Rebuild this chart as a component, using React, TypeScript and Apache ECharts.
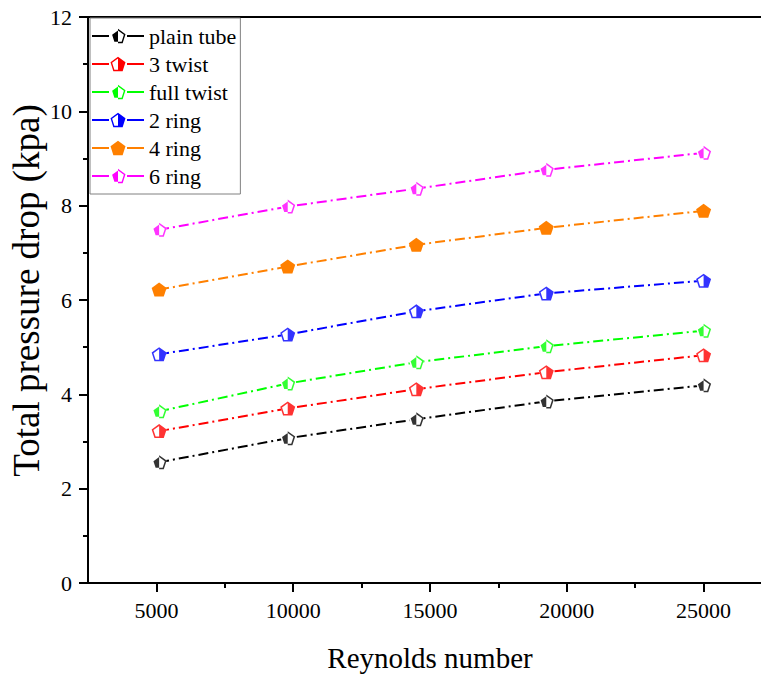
import React, { useEffect, useRef } from "react";
import * as echarts from "echarts";

// ---- data ----
const reynolds = [5100, 9800, 14500, 19250, 25000];
const xMajorTicks = [5000, 10000, 15000, 20000, 25000];
const xMinorTicks = [7500, 12500, 17500, 22500];
const seriesNames = ["plain tube", "3 twist", "full twist", "2 ring", "4 ring", "6 ring"];
const plainTube = [2.56, 3.07, 3.47, 3.85, 4.19];
const twist3 = [3.22, 3.7, 4.11, 4.47, 4.83];
const fullTwist = [3.64, 4.23, 4.68, 5.02, 5.35];
const ring2 = [4.85, 5.27, 5.76, 6.14, 6.41];
const ring4 = [6.22, 6.71, 7.17, 7.53, 7.89];
const ring6 = [7.49, 7.98, 8.36, 8.76, 9.12];
const seriesValues = [plainTube, twist3, fullTwist, ring2, ring4, ring6];
const seriesColors = ["#000000", "#ff0000", "#00ff00", "#0000ff", "#ff8000", "#ff00ff"];
const fillSides = ["left", "right", "left", "right", "full", "left"];

const FONT = "Liberation Serif";

// ---- pentagon symbol helpers ----
type P = [number, number];
function pent(cx: number, cy: number, R: number): P[] {
  return [-90, -18, 54, 126, 198].map((a) => {
    const r = (a * Math.PI) / 180;
    return [cx + R * Math.cos(r), cy + R * Math.sin(r)] as P;
  });
}
function poly(pts: P[]): string {
  return (
    pts.map((p, i) => (i === 0 ? "M" : "L") + p[0].toFixed(2) + " " + p[1].toFixed(2)).join(" ") + " Z "
  );
}
function half(cx: number, cy: number, R: number, side: string): string {
  const pts = pent(cx, cy, R);
  const by = cy + R * Math.cos((36 * Math.PI) / 180);
  if (side === "left") return poly([pts[0], pts[4], pts[3], [cx, by]]);
  return poly([pts[0], pts[1], pts[2], [cx, by]]);
}
function markerPath(cx: number, cy: number, R: number, r: number, side: string): string {
  if (side === "full") return poly(pent(cx, cy, R));
  return poly(pent(cx, cy, R)) + poly(pent(cx, cy, r).reverse()) + half(cx, cy, R, side);
}

const SR = 50;
const SCX = SR * Math.sin((72 * Math.PI) / 180);
const fullPent = "path://" + poly(pent(SCX, SR, SR));

function legendIcon(side: string): string {
  const R = 7.5 / Math.sin((72 * Math.PI) / 180);
  const h = R * (1 + Math.cos((36 * Math.PI) / 180));
  const cy = (16 - h) / 2 + R;
  const lines = "M0 7 L17 7 L17 9 L0 9 Z M35 7 L52 7 L52 9 L35 9 Z ";
  return "path://" + lines + markerPath(26, cy, R, R - 1.7, side);
}

export default function App() {
  const ref = useRef<HTMLDivElement>(null);
  useEffect(() => {
    if (!ref.current) return;
    const chart = echarts.init(ref.current, undefined, { renderer: "svg" });
    const series: any[] = [];
    seriesNames.forEach((name, i) => {
      const c = seriesColors[i];
      const side = fillSides[i];
      const data = reynolds.map((x, j) => [x, seriesValues[i][j]]);
      series.push({
        type: "line",
        name,
        data,
        symbol: fullPent,
        symbolSize: [15, 14],
        itemStyle: { color: side === "full" ? c : "#ffffff", borderWidth: 0 },
        lineStyle: { color: c, width: 2, type: [10, 4, 2, 4] },
        emphasis: { disabled: true },
        z: 2,
      });
      if (side !== "full") {
        series.push({
          type: "scatter",
          data,
          symbol: "path://" + markerPath(SCX, SR, SR, SR - 12, side),
          symbolSize: [15, 14],
          itemStyle: { color: c },
          silent: true,
          z: 3,
        });
      }
    });

    const labelStyle = () => ({
      fontFamily: FONT,
      fontSize: 22,
      color: "#000",
      margin: 16,
      formatter: (v: number) => "{t|" + v + "}",
      rich: { t: { fontFamily: FONT, fontSize: 22, color: "#000" } },
    });

    chart.setOption({
      animation: false,
      backgroundColor: "#ffffff",
      textStyle: { fontFamily: FONT, color: "#000" },
      grid: {
        left: 88,
        right: -11,
        top: 17,
        bottom: 92,
        show: true,
        borderColor: "#000",
        borderWidth: 2,
        outerBoundsMode: "none",
      },
      legend: {
        orient: "vertical",
        left: 90,
        top: 18,
        itemWidth: 52,
        itemHeight: 16,
        itemGap: 6,
        padding: [7, 4, 7, 2],
        borderColor: "#808080",
        borderWidth: 1,
        backgroundColor: "#ffffff",
        textStyle: { fontFamily: FONT, fontSize: 22, color: "#000", lineHeight: 22 },
        data: seriesNames.map((n, i) => ({
          name: n,
          icon: legendIcon(fillSides[i]),
          itemStyle: { color: seriesColors[i], borderWidth: 0 },
        })),
      },
      xAxis: [
        {
          type: "value",
          min: 2500,
          max: 27500,
          position: "bottom",
          axisLine: { show: true, lineStyle: { color: "#000", width: 2 } },
          axisTick: { show: true, customValues: xMajorTicks, length: 9, lineStyle: { color: "#000", width: 2 } },
          axisLabel: { ...labelStyle(), customValues: xMajorTicks },
          splitLine: { show: false },
          name: "Reynolds number",
          nameLocation: "middle",
          nameGap: 60,
          nameMoveOverlap: false,
          nameTextStyle: { fontFamily: FONT, fontSize: 29, color: "#000" },
        },
        {
          type: "value",
          min: 2500,
          max: 27500,
          position: "bottom",
          axisLine: { show: false },
          axisTick: { show: true, customValues: xMinorTicks, length: 5, lineStyle: { color: "#000", width: 2 } },
          axisLabel: { show: false },
          splitLine: { show: false },
        },
      ],
      yAxis: {
        type: "value",
        min: 0,
        max: 12,
        interval: 2,
        axisLine: { show: true, lineStyle: { color: "#000", width: 2 } },
        axisTick: { show: true, length: 9, lineStyle: { color: "#000", width: 2 } },
        minorTick: { show: true, splitNumber: 2, length: 5, lineStyle: { color: "#000", width: 2 } },
        splitLine: { show: false },
        minorSplitLine: { show: false },
        axisLabel: labelStyle(),
        name: "Total pressure drop (kpa)",
        nameLocation: "middle",
        nameGap: 43,
        nameMoveOverlap: false,
        nameTextStyle: { fontFamily: FONT, fontSize: 37, color: "#000", padding: [0, 0, 0, 19] },
      },
      series,
    });
    return () => chart.dispose();
  }, []);
  return (
    <div
      ref={ref}
      style={{ position: "fixed", left: 0, top: 0, width: 761, height: 675, background: "#fff" }}
    />
  );
}
